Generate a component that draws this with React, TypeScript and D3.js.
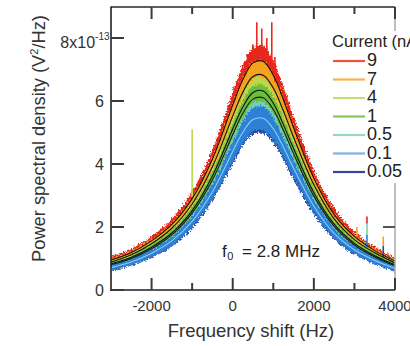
import React from "react";
import * as d3 from "d3";

// Frequency shift (Hz) sample positions
const FREQ = [-3000, -2500, -2000, -1500, -1000, -500, 0, 250, 500, 750, 1000, 1250, 1500, 2000, 2500, 3000, 3500, 4000];

// Power spectral density (x1e-13 V^2/Hz) per drive current (nA)
const PSD_9 = [0.95, 1.19, 1.56, 2.08, 2.9, 4.16, 5.87, 6.68, 7.21, 7.26, 6.82, 6.04, 5.16, 3.55, 2.4, 1.7, 1.25, 0.92];
const PSD_7 = [0.89, 1.12, 1.47, 1.96, 2.73, 3.91, 5.52, 6.28, 6.78, 6.82, 6.41, 5.68, 4.85, 3.34, 2.26, 1.6, 1.18, 0.86];
const PSD_4 = [0.83, 1.04, 1.36, 1.81, 2.52, 3.62, 5.11, 5.81, 6.27, 6.32, 5.93, 5.25, 4.49, 3.09, 2.09, 1.48, 1.09, 0.8];
const PSD_1 = [0.8, 1.0, 1.31, 1.75, 2.44, 3.49, 4.93, 5.61, 6.06, 6.1, 5.73, 5.07, 4.33, 2.98, 2.02, 1.43, 1.05, 0.77];
const PSD_05 = [0.73, 0.92, 1.2, 1.6, 2.23, 3.2, 4.52, 5.14, 5.55, 5.59, 5.25, 4.65, 3.97, 2.73, 1.85, 1.31, 0.96, 0.71];
const PSD_01 = [0.71, 0.89, 1.17, 1.56, 2.18, 3.12, 4.4, 5.01, 5.41, 5.45, 5.12, 4.53, 3.87, 2.66, 1.8, 1.28, 0.94, 0.69];
const PSD_005 = [0.69, 0.87, 1.14, 1.52, 2.13, 3.06, 4.32, 4.92, 5.31, 5.35, 5.02, 4.44, 3.79, 2.6, 1.76, 1.25, 0.92, 0.67];

const CURRENTS = ["9", "7", "4", "1", "0.5", "0.1", "0.05"];
const Y_TICKS = [0, 2, 4, 6, 8];
const X_TICKS = [-2000, 0, 2000, 4000];
const X_MINOR = [-1000, 1000, 3000];

// Narrow spurious spikes: frequency, bottom, top, series index
const SPIKE_FREQ = [494, 593, 716, 840, 963, 1040, -1000, 3062, 3309, 3309, 3309, 3711, 3711];
const SPIKE_BOTTOM = [7.3, 7.3, 7.3, 7.3, 7.2, 6.6, 2.95, 1.7, 2.1, 1.7, 1.35, 1.4, 1.05];
const SPIKE_TOP = [7.8, 8.5, 8.3, 8.0, 8.5, 7.4, 5.1, 2.0, 2.33, 2.1, 1.75, 1.7, 1.4];
const SPIKE_SERIES = [0, 0, 0, 0, 0, 0, 2, 1, 0, 4, 6, 1, 5];

const SERIES = [
  { label: "9", values: PSD_9, color: "#e9281d", legend: "#ef5238", fit: "#111" },
  { label: "7", values: PSD_7, color: "#f5a21e", legend: "#f8b445", fit: "#111" },
  { label: "4", values: PSD_4, color: "#bcd84a", legend: "#c4de7c", fit: "#111" },
  { label: "1", values: PSD_1, color: "#6dbd3e", legend: "#86c55a", fit: "#1a1a1a" },
  { label: "0.5", values: PSD_05, color: "#6fd0bd", legend: "#96d6c6", fit: null },
  { label: "0.05", values: PSD_005, color: "#2b48a8", legend: "#33479c", fit: null },
  { label: "0.1", values: PSD_01, color: "#2f80d4", legend: "#7eb0e4", fit: "#86d0f2" },
];

const FONT = "'Liberation Sans', Arial, Helvetica, sans-serif";

export default function App() {
  const x = d3.scaleLinear().domain([-3000, 4000]).range([111, 395]);
  const y = d3.scaleLinear().domain([0, 9]).range([290, 6.5]);

  const band = (vals: number[]) =>
    d3
      .area<number>()
      .x((_, i) => x(FREQ[i]))
      .y0((v) => y(v * 0.94 - 0.05))
      .y1((v) => y(v * 1.06 + 0.05))
      .curve(d3.curveCatmullRom)(vals) as string;

  const line = (vals: number[]) =>
    d3
      .line<number>()
      .x((_, i) => x(FREQ[i]))
      .y((v) => y(v))
      .curve(d3.curveCatmullRom)(vals) as string;

  const legendOrder = CURRENTS.map((c) => SERIES.find((s) => s.label === c)!);

  return (
    <svg
      width={410}
      height={346}
      style={{ position: "absolute", left: 0, top: 0, background: "#fff" }}
      fontFamily={FONT}
    >
      <defs>
        <clipPath id="plot">
          <rect x={111} y={7} width={284} height={283} />
        </clipPath>
        <filter id="rough" x="-5%" y="-5%" width="110%" height="110%">
          <feTurbulence type="fractalNoise" baseFrequency="0.55" numOctaves={2} seed={4} result="n" />
          <feDisplacementMap in="SourceGraphic" in2="n" scale={6} xChannelSelector="R" yChannelSelector="G" />
        </filter>
      </defs>
      <rect x={0} y={0} width={410} height={346} fill="#fff" />

      <g clipPath="url(#plot)">
        <g filter="url(#rough)">
          {SERIES.map((s) => (
            <path key={s.label} d={band(s.values)} fill={s.color} />
          ))}
        </g>
        {SPIKE_FREQ.map((f, i) => (
          <line
            key={"sp" + i}
            x1={x(f)}
            x2={x(f)}
            y1={y(SPIKE_BOTTOM[i])}
            y2={y(SPIKE_TOP[i])}
            stroke={SERIES[SPIKE_SERIES[i]].color}
            strokeWidth={1.6}
          />
        ))}
        {SERIES.filter((s) => s.fit).map((s) => (
          <path key={"fit" + s.label} d={line(s.values)} fill="none" stroke={s.fit!} strokeWidth={1.1} />
        ))}
      </g>

      {/* frame */}
      <line x1={395} x2={395} y1={7} y2={290} stroke="#a8a8a8" strokeWidth={1.5} />
      <line x1={111} x2={395} y1={7} y2={7} stroke="#2a2a2a" strokeWidth={1.5} />
      <line x1={111} x2={111} y1={6.5} y2={290.5} stroke="#1e1e1e" strokeWidth={1.6} />
      <line x1={110} x2={395} y1={290} y2={290} stroke="#1e1e1e" strokeWidth={1.6} />

      {/* y ticks */}
      {Y_TICKS.map((t) => (
        <g key={"yt" + t}>
          <line x1={111} x2={124} y1={y(t)} y2={y(t)} stroke="#3a3a3a" strokeWidth={2} />
          <line x1={383} x2={395} y1={y(t)} y2={y(t)} stroke="#555" strokeWidth={2} />
        </g>
      ))}
      {/* x ticks */}
      {X_TICKS.map((t) => (
        <g key={"xt" + t}>
          <line x1={x(t)} x2={x(t)} y1={290} y2={278} stroke="#3a3a3a" strokeWidth={2} />
          <line x1={x(t)} x2={x(t)} y1={7} y2={19} stroke="#3a3a3a" strokeWidth={2} />
        </g>
      ))}
      {X_MINOR.map((t) => (
        <g key={"xm" + t}>
          <line x1={x(t)} x2={x(t)} y1={290} y2={283} stroke="#3a3a3a" strokeWidth={2} />
          <line x1={x(t)} x2={x(t)} y1={7} y2={14} stroke="#3a3a3a" strokeWidth={2} />
        </g>
      ))}

      {/* legend */}
      <rect x={328} y={31} width={90} height={152} fill="#fff" />
      <text x={332} y={47} fontSize={16.5} fill="#222">
        Current (nA)
      </text>
      {legendOrder.map((s, i) => (
        <g key={"lg" + s.label}>
          <line x1={333} x2={365} y1={61 + i * 18.5} y2={61 + i * 18.5} stroke={s.legend} strokeWidth={2.2} />
          <text x={367} y={66 + i * 18.5} fontSize={18} fill="#222">
            {s.label}
          </text>
        </g>
      ))}

      {/* y tick labels */}
      {Y_TICKS.map((t) =>
        t === 8 ? (
          <text key={"yl" + t} x={109.5} y={y(t) + 10} fontSize={16} fill="#333" textAnchor="end">
            8x10
            <tspan fontSize={10} dy={-8}>
              -13
            </tspan>
          </text>
        ) : (
          <text key={"yl" + t} x={104} y={y(t) + 5.8} fontSize={16} fill="#333" textAnchor="end">
            {t}
          </text>
        )
      )}
      {/* x tick labels */}
      {X_TICKS.map((t) => (
        <text key={"xl" + t} x={x(t)} y={311} fontSize={15} fill="#333" textAnchor="middle">
          {t}
        </text>
      ))}

      <text x={251} y={337} fontSize={18.5} fill="#333" textAnchor="middle">
        Frequency shift (Hz)
      </text>
      <text transform="translate(45,138.5) rotate(-90)" fontSize={18.3} fill="#333" textAnchor="middle">
        Power spectral density (V
        <tspan fontSize={11} dy={-7}>
          2
        </tspan>
        <tspan dy={7}>/Hz)</tspan>
      </text>

      <text x={222} y={257} fontSize={17} fill="#222">
        f
        <tspan fontSize={11} dy={3} dx={0.5}>
          0
        </tspan>
        <tspan x={242} dy={-3}>
          = 2.8 MHz
        </tspan>
      </text>
    </svg>
  );
}
